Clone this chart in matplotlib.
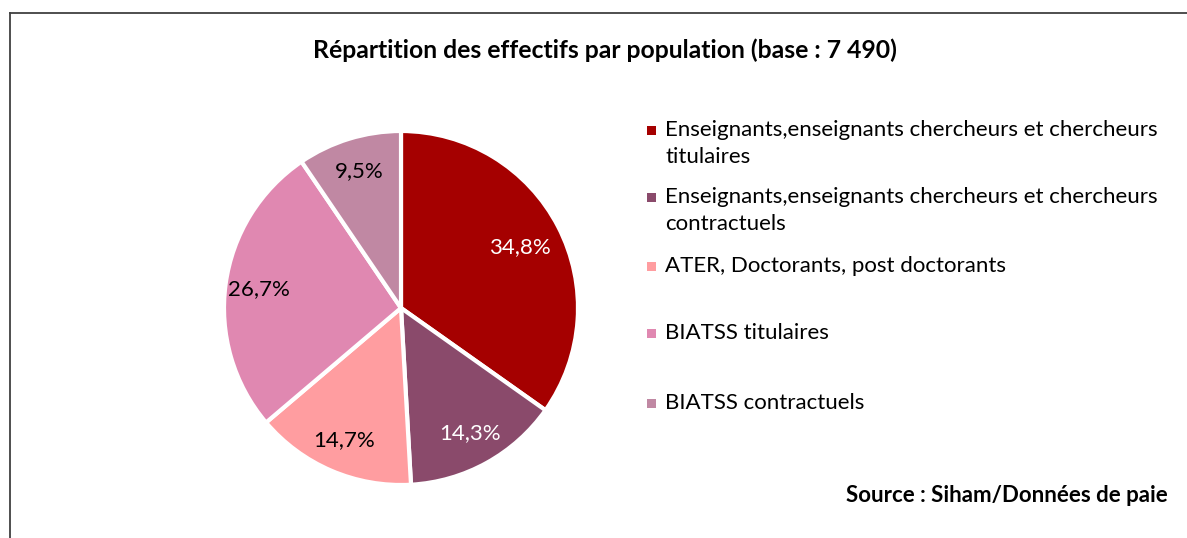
import matplotlib
matplotlib.use("Agg")
import matplotlib.pyplot as plt
from matplotlib.patches import Rectangle
from matplotlib.lines import Line2D

plt.rcParams['font.family'] = ['Lato', 'DejaVu Sans']

categories = [
    "Enseignants,enseignants chercheurs et chercheurs\ntitulaires",
    "Enseignants,enseignants chercheurs et chercheurs\ncontractuels",
    "ATER, Doctorants, post doctorants",
    "BIATSS titulaires",
    "BIATSS contractuels",
]
values = [34.8, 14.3, 14.7, 26.7, 9.5]
colors = ["#A50000", "#8A4A6B", "#FF9DA0", "#E088B1", "#C088A3"]
label_colors = ["white", "white", "black", "black", "black"]
title = "Répartition des effectifs par population (base : 7 490)"
source = "Source : Siham/Données de paie"

W, H = 1187, 538
fig = plt.figure(figsize=(W / 100, H / 100), dpi=100)
fig.patch.set_facecolor("white")

# frame lines (top & left)
fig.add_artist(Line2D([10 / W, 1], [1 - 13 / H, 1 - 13 / H], color="#404040", lw=1.3, transform=fig.transFigure))
fig.add_artist(Line2D([10 / W, 10 / W], [0, 1 - 13 / H], color="#404040", lw=1.3, transform=fig.transFigure))

cx, cy, R = 401, 308, 177
ax = fig.add_axes([(cx - R) / W, (H - cy - R) / H, 2 * R / W, 2 * R / H])
wedges, texts, autotexts = ax.pie(
    values, colors=colors, startangle=90, counterclock=False,
    autopct=lambda p: f"{p:.1f}%".replace(".", ","), pctdistance=0.81,
    wedgeprops=dict(edgecolor="white", linewidth=3),
    textprops=dict(fontsize=16),
)
for t, c in zip(autotexts, label_colors):
    t.set_color(c)
x, y = autotexts[0].get_position()
autotexts[0].set_position((x * 0.93, y * 0.93))
ax.set_xlim(-1, 1)
ax.set_ylim(-1, 1)
ax.set_aspect("equal")
ax.axis("off")

fig.text(605 / W, 1 - 50 / H, title, ha="center", va="center", fontsize=17.8, fontweight="bold")
fig.text(1168 / W, 1 - 495 / H, source, ha="right", va="center", fontsize=16, fontweight="bold")

# legend
ys = [130, 197, 266, 333, 403]
for lab, col, yy in zip(categories, colors, ys):
    fig.add_artist(Rectangle(((651 - 4.5) / W, 1 - (yy + 4.5) / H), 9 / W, 9 / H,
                             facecolor=col, edgecolor="none", transform=fig.transFigure))
    for i, line in enumerate(lab.split("\n")):
        fig.text(665 / W, 1 - (yy + 27 * i) / H, line, ha="left", va="center", fontsize=16)

fig.savefig("out.png", dpi=100, facecolor="white")
